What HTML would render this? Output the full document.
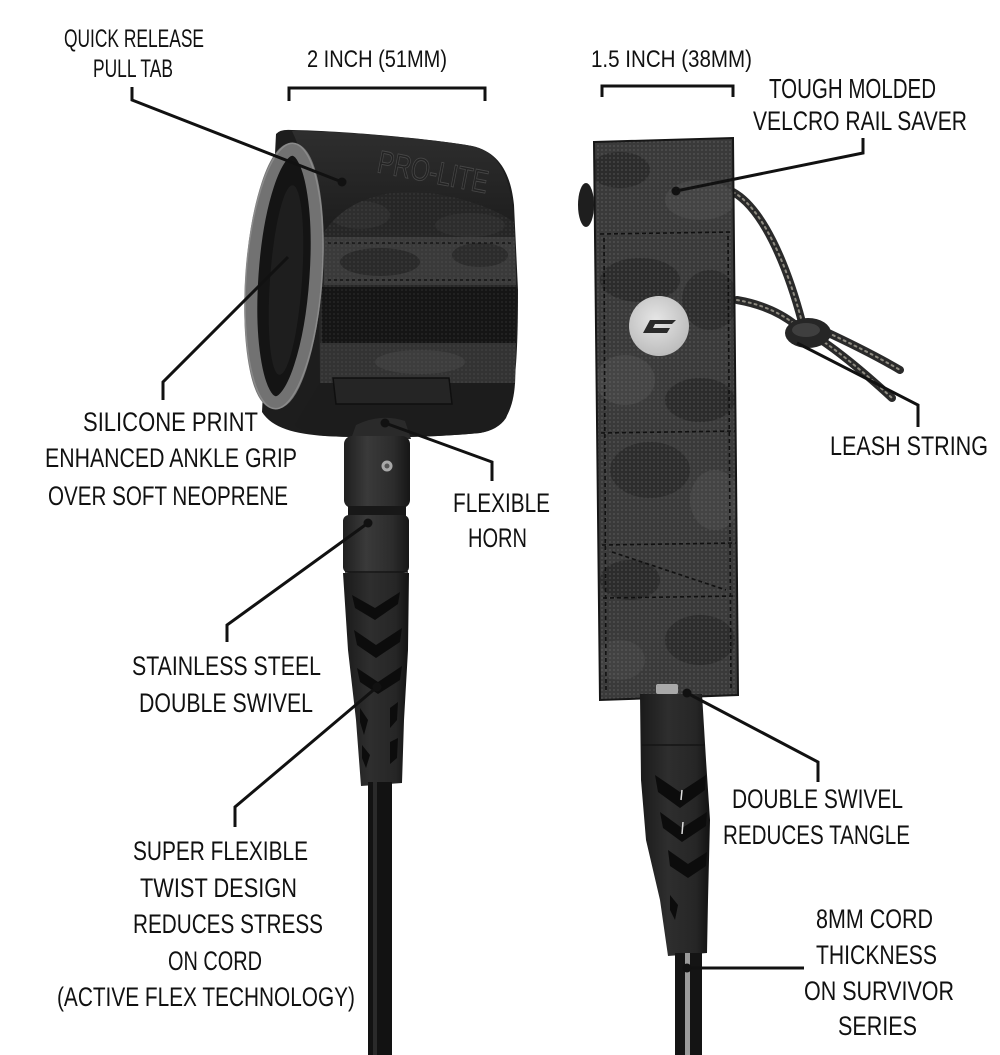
<!DOCTYPE html>
<html>
<head>
<meta charset="utf-8">
<style>
  html,body{margin:0;padding:0;background:#ffffff;}
  svg{display:block;}
  .t{font-family:"Liberation Sans Narrow","Liberation Sans","DejaVu Sans Condensed",sans-serif;fill:#111;}
</style>
</head>
<body>
<svg width="1000" height="1055" viewBox="0 0 1000 1055" xmlns="http://www.w3.org/2000/svg">
<defs>
  <pattern id="dots" width="4" height="4" patternUnits="userSpaceOnUse">
    <circle cx="2" cy="2" r="0.9" fill="#7a7a7a" opacity="0.4"/>
  </pattern>
  <linearGradient id="band" x1="0" y1="0" x2="0" y2="1">
    <stop offset="0" stop-color="#2e2e2e"/>
    <stop offset="1" stop-color="#1b1b1b"/>
  </linearGradient>
  <linearGradient id="cyl" x1="0" y1="0" x2="1" y2="0">
    <stop offset="0" stop-color="#1f1f1f"/>
    <stop offset="0.35" stop-color="#3a3a3a"/>
    <stop offset="0.75" stop-color="#2c2c2c"/>
    <stop offset="1" stop-color="#161616"/>
  </linearGradient>
  <linearGradient id="cyl2" x1="0" y1="0" x2="1" y2="0">
    <stop offset="0" stop-color="#1a1a1a"/>
    <stop offset="0.4" stop-color="#2e2e2e"/>
    <stop offset="0.8" stop-color="#262626"/>
    <stop offset="1" stop-color="#121212"/>
  </linearGradient>
  <radialGradient id="logo" cx="0.45" cy="0.4" r="0.6">
    <stop offset="0" stop-color="#e6e6e6"/>
    <stop offset="1" stop-color="#bdbdbd"/>
  </radialGradient>
  <clipPath id="strapClip">
    <path d="M594,142 L733,138 L738,695 L600,700 Z"/>
  </clipPath>
  <clipPath id="velClip">
    <path d="M318,242 C332,214 360,195 400,192 C440,190 488,204 514,222 L517,300 L515,384 L320,384 Z"/>
  </clipPath>
</defs>

<!-- ================= LEFT CUFF ================= -->
<path d="M276,134 Q280,129 292,130 C350,131 440,140 472,146 C500,152 511,175 514,205 L518,290 C518,350 516,395 506,418 Q498,430 480,433 C430,438 360,438 325,436 C295,434 272,428 262,412 Z" fill="#1d1d1d"/>

<path d="M292,131 C350,131 440,140 472,146 C500,152 511,178 514,222 C488,204 440,190 400,192 C360,195 332,214 318,242 C314,200 306,160 292,131 Z" fill="url(#band)"/>
<text x="376" y="172" transform="rotate(11 376 172)" font-family="Liberation Sans Narrow, Liberation Sans, sans-serif" font-size="32" textLength="112" lengthAdjust="spacingAndGlyphs" fill="#232323" stroke="#474747" stroke-width="0.9">PRO-LITE</text>

<g clip-path="url(#velClip)">
  <rect x="300" y="185" width="230" height="210" fill="#262626"/>
  <ellipse cx="360" cy="215" rx="30" ry="14" fill="#2e2e2e"/>
  <ellipse cx="470" cy="225" rx="35" ry="12" fill="#2d2d2d"/>
  <rect x="324" y="237" width="192" height="48" fill="#3a3a3a"/>
  <ellipse cx="380" cy="262" rx="40" ry="14" fill="#2a2a2a"/>
  <ellipse cx="480" cy="255" rx="28" ry="12" fill="#2c2c2c"/>
  <line x1="328" y1="243" x2="512" y2="243" stroke="#141414" stroke-width="1.5" stroke-dasharray="3 3"/>
  <line x1="328" y1="280" x2="512" y2="280" stroke="#141414" stroke-width="1.5" stroke-dasharray="3 3"/>
  <rect x="322" y="287" width="196" height="56" fill="#151515"/>
  <rect x="320" y="343" width="198" height="42" fill="#333"/>
  <ellipse cx="420" cy="362" rx="45" ry="12" fill="#3d3d3d"/>
  <rect x="300" y="185" width="230" height="210" fill="url(#dots)" opacity="0.5"/>
</g>
<path d="M320,383 L515,383 C514,400 510,412 504,420 Q496,430 480,433 C430,438 360,438 325,436 C310,434 300,430 295,425 Z" fill="#1c1c1c"/>
<path d="M333,378 L449,378 L452,404 L336,404 Z" fill="#252525" stroke="#0f0f0f" stroke-width="1.5"/>

<ellipse cx="284" cy="276" rx="32" ry="127" transform="rotate(4 284 276)" fill="#141414" stroke="#727272" stroke-width="13"/>
<ellipse cx="284" cy="276" rx="38" ry="133" transform="rotate(4 284 276)" fill="none" stroke="#8a8a8a" stroke-width="1.5"/>
<ellipse cx="286" cy="280" rx="16" ry="95" transform="rotate(4 286 280)" fill="#1e1e1e"/>

<!-- ================= LEFT SWIVEL / HORN ================= -->
<path d="M351,439 L356,425 Q380,413 405,421 L411,439 Z" fill="#2a2a2a"/>
<rect x="344" y="436" width="66" height="72" rx="8" fill="url(#cyl)"/>
<circle cx="387" cy="466" r="5.5" fill="#a8a8a8"/>
<circle cx="387" cy="466" r="2.5" fill="#555"/>
<rect x="348" y="506" width="58" height="11" fill="#181818"/>
<rect x="343" y="515" width="66" height="58" rx="6" fill="url(#cyl)"/>
<line x1="345" y1="572" x2="408" y2="572" stroke="#151515" stroke-width="1.5"/>
<path d="M343,573 L409,573 L408,650 L404,720 L402,783 L361,786 L356,720 L348,650 Z" fill="url(#cyl2)"/>
<path d="M352,595 L375,608 L400,592 L398,604 L375,620 L355,608 Z" fill="#0c0c0c"/>
<path d="M354,630 L376,645 L402,628 L400,642 L376,658 L357,645 Z" fill="#0c0c0c"/>
<path d="M357,668 L378,682 L402,666 L400,680 L378,694 L360,682 Z" fill="#0c0c0c"/>
<path d="M360,708 L368,720 L364,735 L360,722 Z" fill="#0c0c0c"/>
<path d="M390,708 L398,702 L397,720 L390,728 Z" fill="#0c0c0c"/>
<path d="M362,745 L370,755 L366,768 L362,758 Z" fill="#0c0c0c"/>
<path d="M390,742 L398,738 L397,758 L390,764 Z" fill="#0c0c0c"/>
<rect x="368" y="782" width="24" height="273" fill="#121212"/>
<rect x="373" y="782" width="4" height="273" fill="#2a2a2a"/>

<!-- ================= RIGHT STRAP ================= -->
<ellipse cx="586" cy="205" rx="8" ry="22" fill="#1e1e1e"/>
<g fill="none" stroke-linecap="round">
  <path d="M733,192 C762,208 786,262 802,322" stroke="#2a2a2a" stroke-width="8"/>
  <path d="M733,192 C762,208 786,262 802,322" stroke="#8d8a80" stroke-width="2" stroke-dasharray="2 4"/>
  <path d="M737,300 C760,304 780,312 797,326" stroke="#2a2a2a" stroke-width="8"/>
  <path d="M737,300 C760,304 780,312 797,326" stroke="#8d8a80" stroke-width="2" stroke-dasharray="2 4"/>
  <path d="M815,336 C840,352 868,376 892,398" stroke="#2a2a2a" stroke-width="8"/>
  <path d="M815,336 C840,352 868,376 892,398" stroke="#8d8a80" stroke-width="2" stroke-dasharray="2 4"/>
  <path d="M822,330 C850,343 878,357 900,370" stroke="#2a2a2a" stroke-width="8"/>
  <path d="M822,330 C850,343 878,357 900,370" stroke="#8d8a80" stroke-width="2" stroke-dasharray="2 4"/>
</g>
<ellipse cx="808" cy="333" rx="23" ry="15" fill="#262626"/>
<ellipse cx="806" cy="330" rx="14" ry="7" fill="#4a4a4a" opacity="0.7"/>

<path d="M594,142 L733,138 L738,695 L600,700 Z" fill="#3a3a3a"/>
<g clip-path="url(#strapClip)">
  <ellipse cx="620" cy="170" rx="30" ry="18" fill="#2c2c2c"/>
  <ellipse cx="700" cy="200" rx="35" ry="20" fill="#444"/>
  <ellipse cx="640" cy="280" rx="40" ry="22" fill="#2c2c2c"/>
  <ellipse cx="710" cy="300" rx="28" ry="30" fill="#2e2e2e"/>
  <ellipse cx="625" cy="380" rx="30" ry="25" fill="#454545"/>
  <ellipse cx="700" cy="400" rx="35" ry="22" fill="#2c2c2c"/>
  <ellipse cx="650" cy="470" rx="40" ry="28" fill="#2d2d2d"/>
  <ellipse cx="715" cy="500" rx="25" ry="30" fill="#444"/>
  <ellipse cx="630" cy="580" rx="30" ry="20" fill="#2c2c2c"/>
  <ellipse cx="700" cy="640" rx="35" ry="25" fill="#2d2d2d"/>
  <ellipse cx="620" cy="660" rx="25" ry="20" fill="#424242"/>
  <rect x="590" y="135" width="155" height="570" fill="url(#dots)"/>
  <g stroke="#111" stroke-width="1.6" stroke-dasharray="4 3" fill="none">
    <line x1="600" y1="234" x2="733" y2="232"/>
    <line x1="601" y1="433" x2="735" y2="431"/>
    <line x1="602" y1="545" x2="736" y2="543"/>
    <line x1="603" y1="598" x2="737" y2="596"/>
    <line x1="612" y1="552" x2="726" y2="590"/>
    <line x1="604" y1="238" x2="606" y2="690"/>
    <line x1="728" y1="236" x2="731" y2="688"/>
  </g>
</g>
<path d="M594,142 L733,138 L738,695 L600,700 Z" fill="none" stroke="#161616" stroke-width="2"/>
<circle cx="659" cy="326" r="30" fill="url(#logo)"/>
<path d="M643,333 L650,320 L676,320 L672,324 L655,324 L653,328 L670,328 L667,333 Z" fill="#2a2a2a"/>

<!-- ================= RIGHT SWIVEL ================= -->
<rect x="656" y="684" width="22" height="10" rx="2" fill="#a9a9a9"/>
<path d="M640,694 L702,694 L706,760 L710,820 L708,900 L707,953 L668,956 L660,900 L646,840 L641,780 Z" fill="url(#cyl2)"/>
<line x1="642" y1="745" x2="705" y2="745" stroke="#151515" stroke-width="1.5"/>
<path d="M655,775 L680,792 L706,775 L705,790 L680,808 L658,792 Z" fill="#0c0c0c"/>
<path d="M660,812 L682,828 L707,812 L706,826 L682,842 L663,828 Z" fill="#0c0c0c"/>
<path d="M668,850 L688,864 L707,852 L706,866 L688,878 L670,866 Z" fill="#0c0c0c"/>
<path d="M670,895 L678,905 L675,920 L670,910 Z" fill="#0c0c0c"/>
<line x1="682" y1="790" x2="681" y2="800" stroke="#ddd" stroke-width="1.5"/>
<line x1="683" y1="822" x2="682" y2="834" stroke="#ddd" stroke-width="1.5"/>
<rect x="675" y="953" width="27" height="102" fill="#141414"/>
<rect x="685" y="953" width="5" height="102" fill="#9a9a9a"/>

<!-- ================= CONNECTORS ================= -->
<g stroke="#111" stroke-width="3" fill="none" stroke-linejoin="miter">
  <polyline points="132,87 132,100 342,182"/>
  <polyline points="289,101 289,88 485,88 485,101"/>
  <polyline points="602,97 602,86 733,86 733,97"/>
  <polyline points="863,138 863,153 676,191"/>
  <polyline points="797,343 918,405 918,427"/>
  <polyline points="163,400 163,382 288,257"/>
  <polyline points="385,423 492,462 492,481"/>
  <polyline points="368,523 227,625 227,642"/>
  <polyline points="377,687 235,807 235,827"/>
  <polyline points="687,693 818,762 818,782"/>
  <polyline points="687,968 804,968"/>
</g>
<g fill="#111">
  <circle cx="342" cy="182" r="4.5"/>
  <circle cx="676" cy="191" r="4.5"/>
  <circle cx="385" cy="423" r="4.5"/>
  <circle cx="368" cy="523" r="4.5"/>
  <circle cx="377" cy="687" r="4.5"/>
  <circle cx="687" cy="693" r="4.5"/>
  <circle cx="687" cy="968" r="4.5"/>
</g>

<!-- ================= LABELS ================= -->
<text class="t" x="64" y="47" font-size="25" textLength="140" lengthAdjust="spacingAndGlyphs">QUICK RELEASE</text>
<text class="t" x="93" y="77" font-size="25" textLength="80" lengthAdjust="spacingAndGlyphs">PULL TAB</text>
<text class="t" x="307" y="67" font-size="24" textLength="140" lengthAdjust="spacingAndGlyphs">2 INCH (51MM)</text>
<text class="t" x="591" y="67" font-size="24" textLength="161" lengthAdjust="spacingAndGlyphs">1.5 INCH (38MM)</text>
<text class="t" x="769" y="98" font-size="28" textLength="167" lengthAdjust="spacingAndGlyphs">TOUGH MOLDED</text>
<text class="t" x="753" y="130" font-size="27" textLength="214" lengthAdjust="spacingAndGlyphs">VELCRO RAIL SAVER</text>
<text class="t" x="830" y="455" font-size="27" textLength="158" lengthAdjust="spacingAndGlyphs">LEASH STRING</text>
<text class="t" x="83" y="431" font-size="27" textLength="175" lengthAdjust="spacingAndGlyphs">SILICONE PRINT</text>
<text class="t" x="45" y="467" font-size="27" textLength="252" lengthAdjust="spacingAndGlyphs">ENHANCED ANKLE GRIP</text>
<text class="t" x="48" y="505" font-size="27" textLength="240" lengthAdjust="spacingAndGlyphs">OVER SOFT NEOPRENE</text>
<text class="t" x="453" y="512" font-size="27" textLength="97" lengthAdjust="spacingAndGlyphs">FLEXIBLE</text>
<text class="t" x="468" y="547" font-size="27" textLength="59" lengthAdjust="spacingAndGlyphs">HORN</text>
<text class="t" x="132" y="675" font-size="27" textLength="189" lengthAdjust="spacingAndGlyphs">STAINLESS STEEL</text>
<text class="t" x="139" y="712" font-size="27" textLength="174" lengthAdjust="spacingAndGlyphs">DOUBLE SWIVEL</text>
<text class="t" x="133" y="860" font-size="27" textLength="175" lengthAdjust="spacingAndGlyphs">SUPER FLEXIBLE</text>
<text class="t" x="140" y="897" font-size="27" textLength="157" lengthAdjust="spacingAndGlyphs">TWIST DESIGN</text>
<text class="t" x="133" y="933" font-size="27" textLength="190" lengthAdjust="spacingAndGlyphs">REDUCES STRESS</text>
<text class="t" x="168" y="970" font-size="27" textLength="94" lengthAdjust="spacingAndGlyphs">ON CORD</text>
<text class="t" x="57" y="1006" font-size="27" textLength="298" lengthAdjust="spacingAndGlyphs">(ACTIVE FLEX TECHNOLOGY)</text>
<text class="t" x="732" y="808" font-size="27" textLength="171" lengthAdjust="spacingAndGlyphs">DOUBLE SWIVEL</text>
<text class="t" x="723" y="844" font-size="27" textLength="187" lengthAdjust="spacingAndGlyphs">REDUCES TANGLE</text>
<text class="t" x="816" y="928" font-size="27" textLength="117" lengthAdjust="spacingAndGlyphs">8MM CORD</text>
<text class="t" x="816" y="964" font-size="27" textLength="121" lengthAdjust="spacingAndGlyphs">THICKNESS</text>
<text class="t" x="804" y="1000" font-size="27" textLength="150" lengthAdjust="spacingAndGlyphs">ON SURVIVOR</text>
<text class="t" x="838" y="1035" font-size="27" textLength="79" lengthAdjust="spacingAndGlyphs">SERIES</text>
</svg>
</body>
</html>
